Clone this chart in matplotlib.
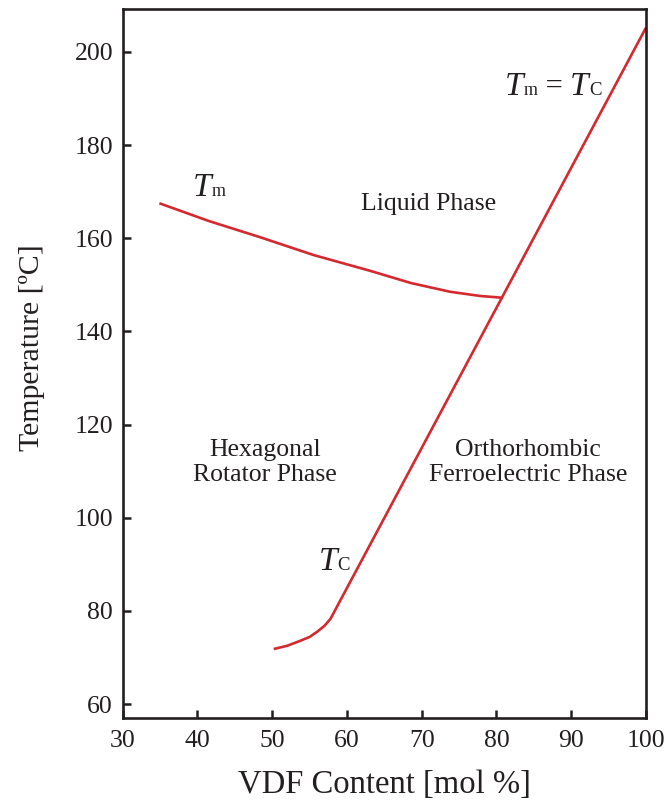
import matplotlib
matplotlib.use("Agg")
import matplotlib.pyplot as plt
from matplotlib.offsetbox import TextArea, HPacker, AnnotationBbox

plt.rcParams['font.family'] = ['Liberation Serif', 'DejaVu Serif']

# Data
tm_x = [34.9, 41.5, 48.4, 55.5, 63.1, 68.5, 71.0, 73.8, 77.8, 80.9]
tm_y = [167.5, 163.7, 160.2, 156.4, 153.0, 150.4, 149.5, 148.5, 147.6, 147.2]
tc_x = [50.2, 52.0, 53.8, 55.0, 56.0, 57.0, 57.8, 100.0]
tc_y = [71.8, 72.5, 73.6, 74.4, 75.5, 76.8, 78.3, 205.2]

xticks = [30, 40, 50, 60, 70, 80, 90, 100]
yticks = [60, 80, 100, 120, 140, 160, 180, 200]

INK = '#231f20'
RED = '#d42a2f'

fig = plt.figure(figsize=(6.71, 8.05), dpi=100)
ax = fig.add_axes([0.1829, 0.1081, 0.9627 - 0.1829, 0.9888 - 0.1081])

ax.plot(tm_x, tm_y, color=RED, lw=1.9, solid_capstyle='butt')
ax.plot(tc_x, tc_y, color=RED, lw=1.9, solid_capstyle='butt')

ax.set_xlim(30, 100)
ax.set_ylim(57.0, 209.2)
ax.set_xticks(xticks)
ax.set_yticks(yticks)
ax.tick_params(direction='in', length=6, width=1.8, color=INK, labelcolor=INK,
               labelsize=18.5, pad=7)
ax.tick_params(axis='x', pad=9)
for s in ax.spines.values():
    s.set_linewidth(1.9)
    s.set_color(INK)

ax.set_xlabel('VDF Content [mol %]', fontsize=23.5, color=INK, labelpad=12)
ax.set_ylabel('Temperature [ºC]', fontsize=21.5, color=INK, labelpad=21, y=0.522)

def symbol(parts, xy):
    kids = []
    for txt, size, style in parts:
        kids.append(TextArea(txt, textprops=dict(fontsize=size, style=style, color=INK,
                                                 family=['Liberation Serif'])))
    box = HPacker(children=kids, align='baseline', pad=0, sep=0)
    ab = AnnotationBbox(box, xy, xycoords='data', frameon=False, box_alignment=(0.5, 0.5))
    ax.add_artist(ab)

symbol([('T', 24, 'italic'), ('m', 13, 'normal')], (41.6, 170.8))
symbol([('T', 24, 'italic'), ('m', 13, 'normal'), (' = ', 22, 'normal'),
        ('T', 24, 'italic'), ('C', 13.5, 'normal')], (87.6, 192.6))
symbol([('T', 24, 'italic'), ('C', 13.5, 'normal')], (58.3, 90.6))

ax.text(70.9, 167.3, 'Liquid Phase', fontsize=18.5, color=INK, ha='center', va='center')
ax.text(49.0, 111.8, 'Hexagonal\nRotator Phase', fontsize=18.5, color=INK,
        ha='center', va='center', linespacing=1.15)
ax.text(84.2, 111.8, 'Orthorhombic\nFerroelectric Phase', fontsize=18.5, color=INK,
        ha='center', va='center', linespacing=1.15)

fig.savefig('out.png', dpi=100)
